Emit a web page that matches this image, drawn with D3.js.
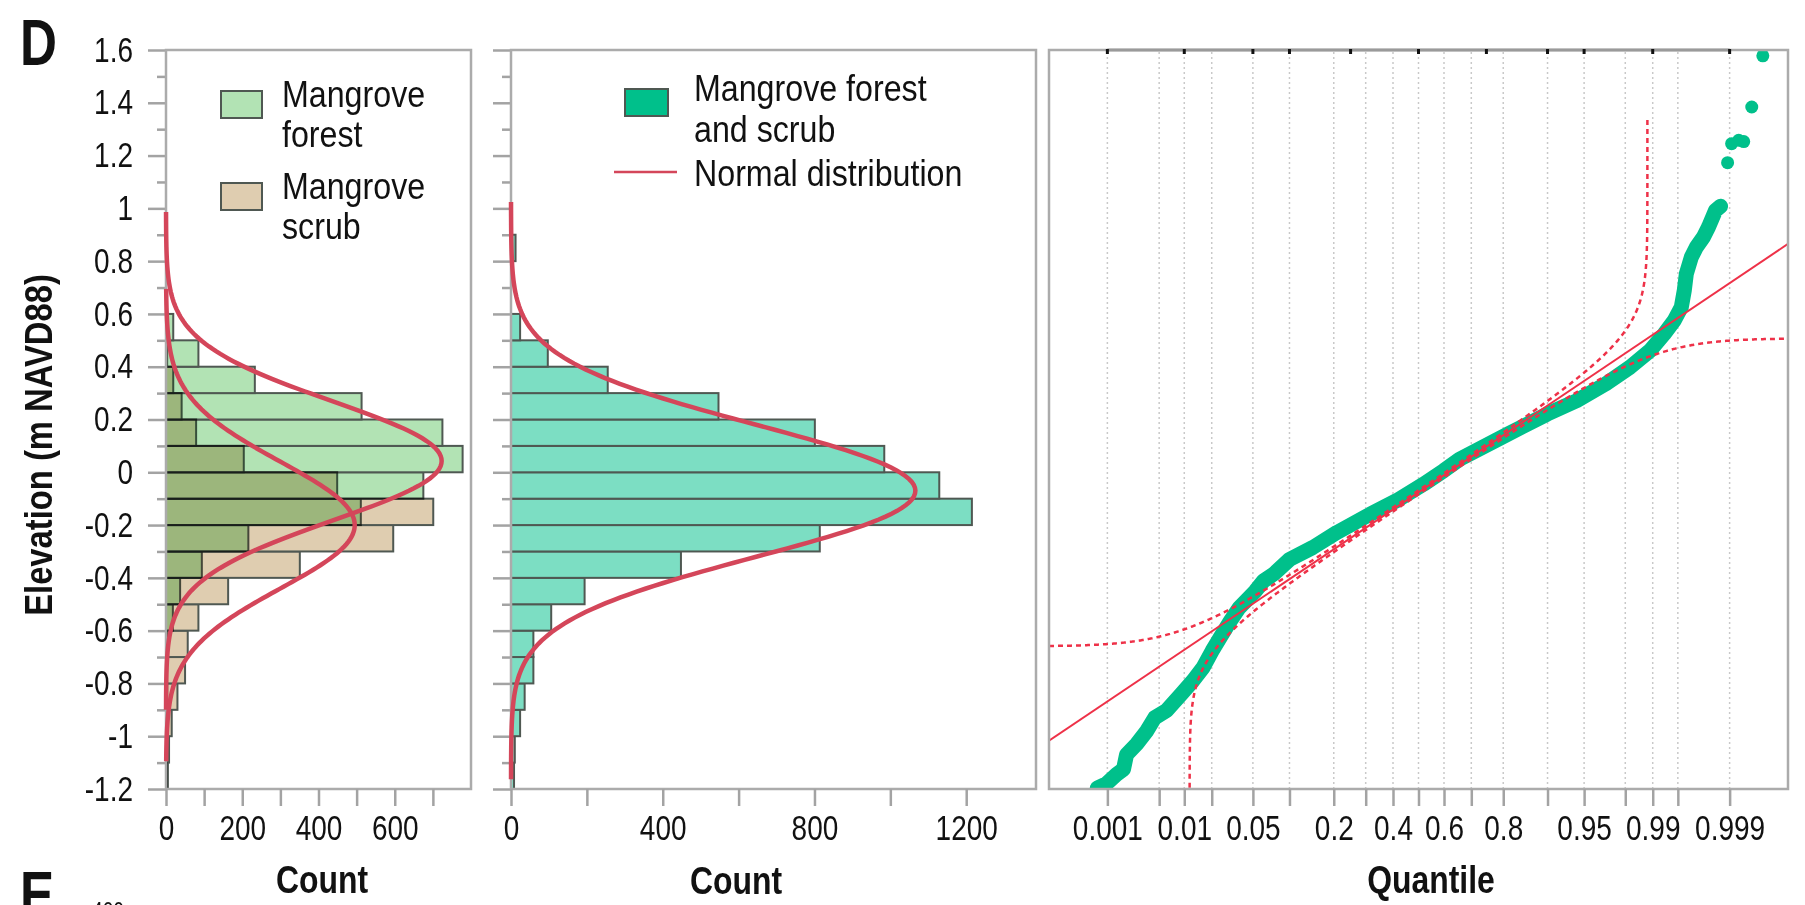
<!DOCTYPE html>
<html>
<head>
<meta charset="utf-8">
<script src="https://cdn.jsdelivr.net/npm/d3@7"></script>
<style>
body { margin: 0; background: #fff; }
svg text { font-family: "Liberation Sans", Arial, sans-serif; fill: #111; }
</style>
</head>
<body>
<svg width="1805" height="905"></svg>
<script>
// lower edge of each 0.1 m elevation class
var binLower = d3.range(-12, 9).map(function(d) { return d / 10; });
var forestCounts = [2, 2, 3, 3, 2, 4, 18, 37, 94, 216, 511, 675, 778, 725, 513, 233, 85, 19, 0, 0, 0];
var scrubCounts  = [5, 8, 15, 30, 50, 57, 85, 163, 351, 596, 701, 449, 204, 79, 41, 19, 3, 0, 0, 0, 0];
var allCounts    = [8, 10, 24, 36, 59, 59, 106, 194, 448, 814, 1215, 1129, 984, 801, 547, 255, 97, 24, 0, 0, 12];

// fitted normal curves: forest, scrub, forest + scrub
var fitMean = [0.043, -0.200, -0.070];
var fitSd   = [0.225, 0.240, 0.250];
var fitPeak = [723, 495, 1066];
var fitFrom = [-0.900, -1.095, -1.163];
var fitTo   = [0.986, 0.695, 1.024];

// normal quantile plot, read as (normal score, elevation)
var qqZ    = [-3.19, -3.10, -3.00, -2.93, -2.90, -2.80, -2.70, -2.62, -2.50, -2.36, -2.24, -2.14, -2.05, -1.96, -1.87, -1.78, -1.70, -1.62, -1.54, -1.44, -1.28, -1.05, -0.81, -0.48, -0.22, 0.05, 0.25, 0.41, 0.89, 1.28, 1.57, 1.86, 2.10, 2.30, 2.44, 2.54, 2.61, 2.64, 2.66, 2.71, 2.76, 2.83, 2.88, 2.95, 3.00];
var qqElev = [-1.196, -1.180, -1.145, -1.125, -1.070, -1.030, -0.981, -0.930, -0.902, -0.842, -0.790, -0.740, -0.677, -0.620, -0.564, -0.513, -0.482, -0.450, -0.412, -0.386, -0.330, -0.285, -0.228, -0.159, -0.108, -0.045, 0.006, 0.050, 0.145, 0.221, 0.271, 0.335, 0.398, 0.461, 0.524, 0.575, 0.625, 0.689, 0.752, 0.815, 0.853, 0.891, 0.929, 0.992, 1.008];
var tailZ    = [3.07, 3.11, 3.18, 3.23, 3.31, 3.42];
var tailElev = [1.173, 1.245, 1.258, 1.253, 1.384, 1.578];
var qqLineMean = -0.076, qqLineSd = 0.2565, bandWidth = 0.0115;

var gridProbs  = [0.001, 0.005, 0.01, 0.02, 0.05, 0.1, 0.2, 0.3, 0.4, 0.5, 0.6, 0.7, 0.8, 0.9, 0.95, 0.98, 0.99, 0.995, 0.999];
var labelProbs = [0.001, 0.01, 0.05, 0.2, 0.4, 0.6, 0.8, 0.95, 0.99, 0.999];
var topProbs   = [0.001, 0.01, 0.05, 0.1, 0.25, 0.5, 0.75, 0.9, 0.95, 0.99, 0.999];

function normCdf(z) {
  var t = 1 / (1 + 0.3275911 * Math.abs(z) / Math.SQRT2);
  var e = 1 - (((((1.061405429 * t - 1.453152027) * t) + 1.421413741) * t - 0.284496736) * t + 0.254829592) * t * Math.exp(-z * z / 2);
  return z >= 0 ? (1 + e) / 2 : (1 - e) / 2;
}
function probit(p) {
  var a = [-39.69683028665376, 220.9460984245205, -275.9285104469687, 138.3577518672690, -30.66479806614716, 2.506628277459239];
  var b = [-54.47609879822406, 161.5858368580409, -155.6989798598866, 66.80131188771972, -13.28068155288572];
  var c = [-0.007784894002430293, -0.3223964580411365, -2.400758277161838, -2.549732539343734, 4.374664141464968, 2.938163982698783];
  var d = [0.007784695709041462, 0.3224671290700398, 2.445134137142996, 3.754408661907416];
  var q, r;
  if (p < 0.02425) {
    q = Math.sqrt(-2 * Math.log(p));
    return (((((c[0]*q+c[1])*q+c[2])*q+c[3])*q+c[4])*q+c[5]) / ((((d[0]*q+d[1])*q+d[2])*q+d[3])*q+1);
  }
  if (p > 1 - 0.02425) {
    q = Math.sqrt(-2 * Math.log(1 - p));
    return -(((((c[0]*q+c[1])*q+c[2])*q+c[3])*q+c[4])*q+c[5]) / ((((d[0]*q+d[1])*q+d[2])*q+d[3])*q+1);
  }
  q = p - 0.5; r = q * q;
  return (((((a[0]*r+a[1])*r+a[2])*r+a[3])*r+a[4])*r+a[5])*q / (((((b[0]*r+b[1])*r+b[2])*r+b[3])*r+b[4])*r+1);
}

var svg = d3.select("svg");

var top0 = 50, bottom0 = 789;
var y = d3.scaleLinear().domain([-1.2, 1.6]).range([bottom0, top0]);
var x1 = d3.scaleLinear().domain([0, 800]).range([166, 471]);
var x2 = d3.scaleLinear().domain([0, 1384]).range([511, 1036]);
var x3 = d3.scaleLinear().domain([-3.67, 3.67]).range([1049, 1788]);

var edge = "#4f5852", frameGrey = "#ababab", tickGrey = "#a3a3a3";
var curveRed = "#d4465a", qqRed = "#ee3148", qqGreen = "#00c08b";
var majorY = d3.range(-12, 17, 2).map(function(d) { return d / 10; });
var minorY = d3.range(-11, 16, 2).map(function(d) { return d / 10; });

function styleAxis(g, size) {
  g.attr("font-size", size).attr("font-family", null);
  g.select(".domain").remove();
  g.selectAll(".tick line").attr("stroke", tickGrey).attr("stroke-width", 2.5);
  g.selectAll(".tick text").attr("fill", "#111");
}

function yAxes(xPos, labels) {
  var gMinor = svg.append("g").attr("transform", "translate(" + xPos + ",0)")
      .call(d3.axisLeft(y).tickValues(minorY).tickSize(9).tickFormat(""));
  styleAxis(gMinor, 35);
  var gMajor = svg.append("g").attr("transform", "translate(" + xPos + ",0)")
      .call(d3.axisLeft(y).tickValues(majorY).tickSize(18).tickPadding(15)
        .tickFormat(function(d) { return labels ? String(+d.toFixed(1)) : ""; }));
  styleAxis(gMajor, 35);
}

function frame(x0, x1_) {
  svg.append("rect")
      .attr("x", x0).attr("y", top0)
      .attr("width", x1_ - x0).attr("height", bottom0 - top0)
      .attr("fill", "none").attr("stroke", frameGrey).attr("stroke-width", 2.5);
}

function normalCurve(xs, i) {
  var pts = d3.range(0, 201).map(function(k) {
    var v = fitFrom[i] + (fitTo[i] - fitFrom[i]) * k / 200;
    var c = fitPeak[i] * Math.exp(-0.5 * Math.pow((v - fitMean[i]) / fitSd[i], 2));
    return [c, v];
  });
  return d3.line().x(function(d) { return xs(d[0]); }).y(function(d) { return y(d[1]); })(pts);
}

function bars(xs, counts, fill, blend) {
  svg.append("g")
      .style("mix-blend-mode", blend || "normal")
    .selectAll("rect")
    .data(binLower.map(function(v, i) { return { v: v, c: counts[i] }; })
      .filter(function(d) { return d.c > 0; }))
    .enter().append("rect")
      .attr("x", xs(0))
      .attr("y", function(d) { return y(d.v + 0.1); })
      .attr("width", function(d) { return xs(d.c) - xs(0); })
      .attr("height", function(d) { return y(d.v) - y(d.v + 0.1); })
      .attr("fill", fill)
      .attr("stroke", edge)
      .attr("stroke-width", 2);
}

// ---- panel 1: forest and scrub
yAxes(166, true);
bars(x1, forestCounts, "#b2e3b4");
bars(x1, scrubCounts, "#dfcdb0", "multiply");
frame(166, 471);
var bx1 = svg.append("g").attr("transform", "translate(0," + bottom0 + ")")
    .call(d3.axisBottom(x1).tickValues(d3.range(0, 800, 100)).tickSize(17).tickPadding(9)
      .tickFormat(function(d) { return d % 200 === 0 ? d : ""; }));
styleAxis(bx1, 35);
[0, 1].forEach(function(i) {
  svg.append("path").attr("d", normalCurve(x1, i))
      .attr("fill", "none").attr("stroke", curveRed).attr("stroke-width", 4.5);
});

// legend 1
[["#b2e3b4", 91, ["Mangrove", "forest"]], ["#dfcdb0", 183, ["Mangrove", "scrub"]]].forEach(function(e) {
  svg.append("rect").attr("x", 221).attr("y", e[1]).attr("width", 41).attr("height", 27)
      .attr("fill", e[0]).attr("stroke", edge).attr("stroke-width", 2);
  e[2].forEach(function(t, k) {
    svg.append("text").attr("class", "wide").attr("x", 282).attr("y", e[1] + 16 + k * 40)
        .attr("font-size", 37).text(t);
  });
});

// ---- panel 2: forest and scrub together
yAxes(511, false);
bars(x2, allCounts, "#7cdec3");
frame(511, 1036);
var bx2 = svg.append("g").attr("transform", "translate(0," + bottom0 + ")")
    .call(d3.axisBottom(x2).tickValues(d3.range(0, 1201, 200)).tickSize(17).tickPadding(9)
      .tickFormat(function(d) { return d % 400 === 0 ? d : ""; }));
styleAxis(bx2, 35);
svg.append("path").attr("d", normalCurve(x2, 2))
    .attr("fill", "none").attr("stroke", curveRed).attr("stroke-width", 4.5);

svg.append("rect").attr("x", 625).attr("y", 89).attr("width", 43).attr("height", 27)
    .attr("fill", qqGreen).attr("stroke", edge).attr("stroke-width", 2);
svg.append("line").attr("x1", 614).attr("x2", 677).attr("y1", 172).attr("y2", 172)
    .attr("stroke", curveRed).attr("stroke-width", 2.5);
[["Mangrove forest", 101], ["and scrub", 142], ["Normal distribution", 186]].forEach(function(t) {
  svg.append("text").attr("class", "wide").attr("x", 694).attr("y", t[1]).attr("font-size", 37).text(t[0]);
});

// ---- panel 3: normal quantile plot
svg.append("defs").append("clipPath").attr("id", "qqclip")
  .append("rect").attr("x", 1049).attr("y", top0).attr("width", 739).attr("height", bottom0 - top0);

svg.append("g").selectAll("line").data(gridProbs).enter().append("line")
    .attr("x1", function(p) { return x3(probit(p)); })
    .attr("x2", function(p) { return x3(probit(p)); })
    .attr("y1", top0 + 2).attr("y2", bottom0)
    .attr("stroke", "#c9c9c9").attr("stroke-width", 1.5).attr("stroke-dasharray", "2,3");

var qq = svg.append("g").attr("clip-path", "url(#qqclip)");
var qqPts = qqZ.map(function(z, i) { return [z, qqElev[i]]; });
var qqLine = d3.line().x(function(d) { return x3(d[0]); }).y(function(d) { return y(d[1]); });
qq.append("path").attr("d", qqLine(qqPts))
    .attr("fill", "none").attr("stroke", qqGreen).attr("stroke-width", 15)
    .attr("stroke-linecap", "round").attr("stroke-linejoin", "round");
qq.selectAll("circle.pt").data(qqPts.concat(tailZ.map(function(z, i) { return [z, tailElev[i]]; })))
  .enter().append("circle")
    .attr("cx", function(d) { return x3(d[0]); })
    .attr("cy", function(d) { return y(d[1]); })
    .attr("r", 6.5).attr("fill", qqGreen);

// fitted line
qq.append("line")
    .attr("x1", x3(-3.67)).attr("y1", y(qqLineMean - 3.67 * qqLineSd))
    .attr("x2", x3(3.67)).attr("y2", y(qqLineMean + 3.67 * qqLineSd))
    .attr("stroke", qqRed).attr("stroke-width", 2);

// confidence bands
function band(sign) {
  var pts = [];
  d3.range(0, 801).forEach(function(k) {
    var z = -3.67 + 7.34 * k / 800;
    var q = normCdf(z) + sign * bandWidth;
    if (q > 0 && q < 1) pts.push([z, qqLineMean + qqLineSd * probit(q)]);
  });
  d3.range(0, 801).forEach(function(k) {
    var u = -5 + 10.6 * k / 800;
    var p = normCdf(u) - sign * bandWidth;
    if (p > 0 && p < 1) pts.push([probit(p), qqLineMean + qqLineSd * u]);
  });
  pts = pts.filter(function(d) { return d[0] >= -3.7 && d[0] <= 3.7 && d[1] <= 1.35 && d[1] >= -1.3; });
  pts.sort(function(a, b) { return (x3(a[0]) - y(a[1])) - (x3(b[0]) - y(b[1])); });
  return qqLine(pts);
}
[1, -1].forEach(function(s) {
  qq.append("path").attr("d", band(s))
      .attr("fill", "none").attr("stroke", qqRed).attr("stroke-width", 2.5)
      .attr("stroke-dasharray", "5,4");
});

frame(1049, 1788);
svg.append("line")
    .attr("x1", x3(probit(0.001))).attr("x2", x3(probit(0.999)))
    .attr("y1", top0).attr("y2", top0)
    .attr("stroke", "#9a9a9a").attr("stroke-width", 3);
svg.append("g").selectAll("rect").data(topProbs).enter().append("rect")
    .attr("x", function(p) { return x3(probit(p)) - 1.5; })
    .attr("y", top0 - 1).attr("width", 3).attr("height", 5).attr("fill", "#111");

var bx3 = svg.append("g").attr("transform", "translate(0," + bottom0 + ")")
    .call(d3.axisBottom(x3).tickValues(gridProbs.map(probit)).tickSize(17).tickPadding(9)
      .tickFormat(function(d, i) { return labelProbs.indexOf(gridProbs[i]) >= 0 ? String(gridProbs[i]) : ""; }));
styleAxis(bx3, 35);

// ---- titles
function title(x, y0, t, size) {
  return svg.append("text").attr("class", "title").attr("x", x).attr("y", y0)
      .attr("text-anchor", "middle").attr("font-size", size).attr("font-weight", "bold").text(t);
}
title(322, 893, "Count", 38);
title(736, 894, "Count", 38);
title(1431, 893, "Quantile", 38);
title(0, 0, "Elevation (m NAVD88)", 39).attr("transform", "translate(52,445) rotate(-90)");
svg.append("text").attr("x", 20).attr("y", 65).attr("font-size", 64).attr("font-weight", "bold").text("D");
svg.append("text").attr("x", 20).attr("y", 917).attr("font-size", 64).attr("font-weight", "bold").text("E");
svg.append("text").attr("x", 108).attr("y", 919).attr("text-anchor", "middle").attr("font-size", 24).text("400");

// condensed lettering, like the narrow face of the original
svg.selectAll("text").each(function() {
  var w = this.getComputedTextLength();
  var k = this.classList.contains("wide") ? 0.87 : this.classList.contains("title") ? 0.84 : 0.8;
  if (w > 0) d3.select(this).attr("textLength", w * k).attr("lengthAdjust", "spacingAndGlyphs");
});
</script>
</body>
</html>
